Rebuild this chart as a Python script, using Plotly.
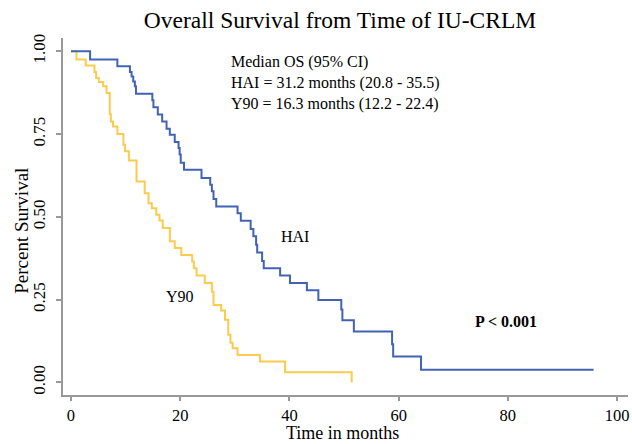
import plotly.graph_objects as go

# HAI Kaplan-Meier curve (time in months, survival)
hai_time = [0, 3.5, 8.5, 10.8, 11.1, 11.4, 11.7, 11.9, 14.9, 15.1, 15.9, 16.7, 17.5, 18.1,
            19.0, 19.7, 19.9, 20.1, 20.7, 23.9, 25.5, 25.8, 26.1, 26.6, 30.5, 31.1, 32.9,
            33.4, 33.9, 34.1, 35.0, 35.3, 38.3, 40.1, 43.2, 45.3, 49.5, 49.7, 51.8, 58.8,
            59.0, 64.1, 95.7]
hai_surv = [1.0, 0.975, 0.955, 0.937, 0.924, 0.909, 0.894, 0.872, 0.852, 0.831, 0.809, 0.788,
            0.766, 0.748, 0.726, 0.708, 0.688, 0.663, 0.642, 0.617, 0.597, 0.577, 0.554, 0.531,
            0.511, 0.488, 0.463, 0.441, 0.416, 0.392, 0.367, 0.345, 0.323, 0.300, 0.278, 0.249,
            0.220, 0.188, 0.154, 0.115, 0.078, 0.038, 0.038]

# Y90 Kaplan-Meier curve
y90_time = [0, 1.0, 2.7, 4.3, 4.6, 5.1, 5.9, 6.5, 7.1, 7.3, 7.7, 8.5, 9.6, 9.9, 10.6, 12.0,
            13.5, 14.2, 14.8, 15.6, 16.2, 16.8, 18.1, 19.0, 20.2, 22.2, 22.5, 23.0, 24.5,
            25.8, 26.1, 27.5, 28.2, 28.8, 29.2, 29.6, 30.5, 34.6, 39.2, 51.4]
y90_surv = [1.0, 0.975, 0.957, 0.937, 0.919, 0.907, 0.894, 0.874, 0.81, 0.788, 0.773, 0.750,
            0.718, 0.698, 0.670, 0.607, 0.571, 0.541, 0.526, 0.506, 0.489, 0.466, 0.426,
            0.406, 0.385, 0.365, 0.345, 0.323, 0.300, 0.274, 0.234, 0.217, 0.189, 0.144,
            0.120, 0.103, 0.083, 0.063, 0.031, 0.0]

x_ticks = [0, 20, 40, 60, 80, 100]
y_ticks = [0.0, 0.25, 0.50, 0.75, 1.00]
y_tick_text = ["0.00", "0.25", "0.50", "0.75", "1.00"]

BLUE = "#4263B5"
YELLOW = "#FBCB4E"
FONT = "Liberation Serif"

fig = go.Figure()
fig.add_trace(go.Scatter(x=y90_time, y=y90_surv, mode="lines", line_shape="hv",
                         line=dict(color=YELLOW, width=2), name="Y90"))
fig.add_trace(go.Scatter(x=hai_time, y=hai_surv, mode="lines", line_shape="hv",
                         line=dict(color=BLUE, width=2), name="HAI"))

ann_font = dict(family=FONT, size=16, color="black")
fig.add_annotation(x=0.294, y=0.933, xref="paper", yref="paper", xanchor="left", yanchor="middle",
                   showarrow=False, align="left", font=ann_font,
                   text="Median OS (95% CI)")
fig.add_annotation(x=0.294, y=0.874, xref="paper", yref="paper", xanchor="left", yanchor="middle",
                   showarrow=False, align="left", font=ann_font,
                   text="HAI = 31.2 months (20.8 - 35.5)")
fig.add_annotation(x=0.294, y=0.815, xref="paper", yref="paper", xanchor="left", yanchor="middle",
                   showarrow=False, align="left", font=ann_font,
                   text="Y90 = 16.3 months (12.2 - 22.4)")
fig.add_annotation(x=41.1, y=0.44, showarrow=False, font=dict(family=FONT, size=16, color="black"),
                   text="HAI")
fig.add_annotation(x=19.9, y=0.26, showarrow=False, font=dict(family=FONT, size=16, color="black"),
                   text="Y90")
fig.add_annotation(x=79.7, y=0.185, showarrow=False, font=dict(family=FONT, size=16, color="black"),
                   text="<b>P < 0.001</b>")
# axis titles
fig.add_annotation(x=0.494, y=-0.1065, xref="paper", yref="paper", xanchor="center", yanchor="middle",
                   showarrow=False, borderpad=0, font=dict(family=FONT, size=18, color="black"),
                   text="Time in months")
fig.add_annotation(x=-0.0726, y=0.46, xref="paper", yref="paper", xanchor="center", yanchor="middle",
                   showarrow=False, textangle=-90, font=dict(family=FONT, size=19, color="black"),
                   text="Percent Survival")

fig.update_layout(
    width=632, height=444,
    margin=dict(l=63, r=4, t=38, b=49),
    paper_bgcolor="white", plot_bgcolor="white",
    showlegend=False,
    font=dict(family=FONT, size=16, color="black"),
    title=dict(text="Overall Survival from Time of IU-CRLM", x=0.538, xanchor="center",
               y=0.955, yanchor="middle", font=dict(family=FONT, size=23.5, color="black")),
)
fig.update_xaxes(range=[-1.46, 102], tickvals=x_ticks, showgrid=False, zeroline=False,
                 automargin=False,
                 showline=True, linecolor="#999999", linewidth=1.5,
                 ticks="outside", ticklen=4, tickcolor="#999999", tickwidth=1.5,
                 tickfont=dict(family=FONT, size=16.5))
fig.update_yaxes(range=[-0.038, 1.04], tickvals=y_ticks, ticktext=y_tick_text, tickangle=-90,
                 showgrid=False, zeroline=False, automargin=False,
                 showline=True, linecolor="#999999", linewidth=1.5,
                 ticks="outside", ticklen=5, tickcolor="#999999", tickwidth=1.5,
                 ticklabelstandoff=4,
                 tickfont=dict(family=FONT, size=17))

fig.write_html("out.html", config={"displayModeBar": False},
               post_script="document.body.style.margin='0';document.body.style.overflow='hidden';")
